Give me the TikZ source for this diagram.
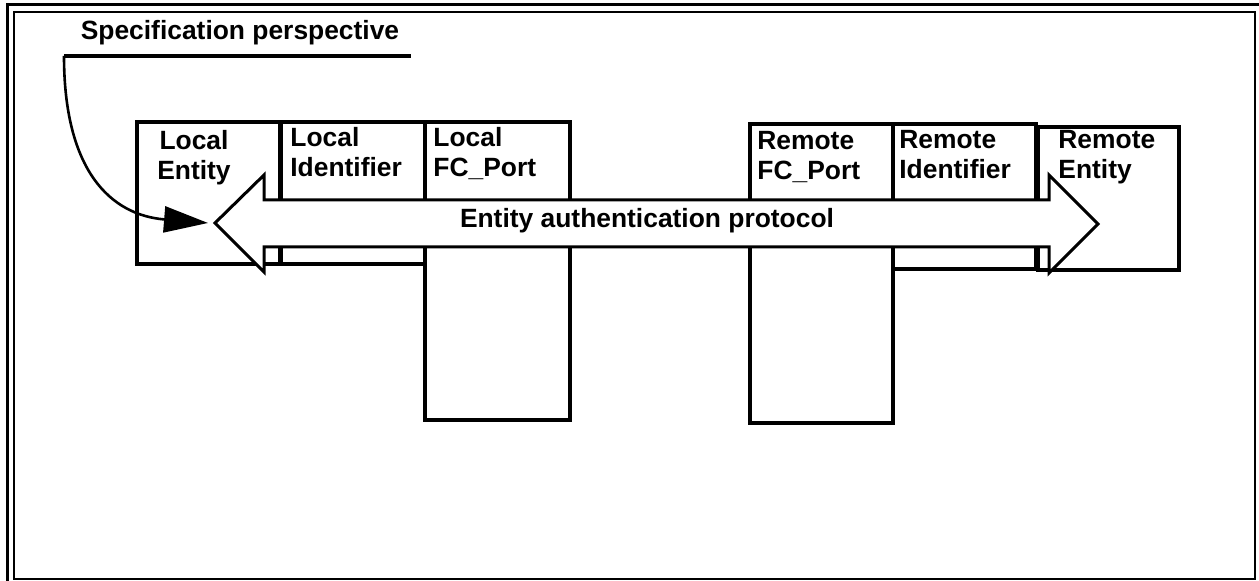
\documentclass[tikz,border=0pt]{standalone}
\usepackage{fontspec}
\setmainfont{Liberation Sans}
\usetikzlibrary{arrows.meta}

\begin{document}
\begin{tikzpicture}[x = .5pt, y = -.5pt,
    every node/.style = {font = \fontsize{13.2}{15}\selectfont\bfseries, inner sep = 0pt},
    box/.style = {line width = 1.9pt},
    lbl/.style = {anchor = base west, align = left}]
    \useasboundingbox (0,0) rectangle (1259,581);
    \draw[line width = 1.5pt] (7,581) -- (7,5) -- (1259,5);
    \draw[line width = 1.1pt] (14,12) rectangle (1255,579);
    % boxes
    \draw[box] (137,122) rectangle (280,264);
    \draw[box] (281,122) rectangle (425,264);
    \draw[box] (425,122) rectangle (570,420);
    \draw[box] (750,124) rectangle (893,423);
    \draw[box] (893,124) rectangle (1036,269);
    \draw[box] (1038,127) rectangle (1179,270);
    \node[lbl, anchor = base, align = center] (lent) at (194,180) {Local\\Entity};
    \node[lbl] (lid) at (290,177) {Local\\Identifier};
    \node[lbl] (lport) at (433,177) {Local\\FC\_Port};
    \node[lbl] (rport) at (757,180) {Remote\\FC\_Port};
    \node[lbl] (rid) at (899,179) {Remote\\Identifier};
    \node[lbl] (rent) at (1058,179) {Remote\\Entity};
    % double block arrow
    \coordinate (tipL) at (215,223);
    \coordinate (tipR) at (1098,224);
    \draw[line width = 1.5pt, fill = white, line join = miter] (tipL) -- (264,175) -- (264,200) -- (1049,200) -- (1049,175) -- (tipR)
        -- (1049,273) -- (1049,247) -- (264,247) -- (264,272) -- cycle;
    \node[anchor = base] (proto) at (647,228) {Entity authentication protocol};
    % perspective label
    \node[anchor = base] (spec) at (240,40) {Specification perspective};
    \coordinate (ulA) at (64,56);
    \coordinate (ulB) at (411,56);
    \draw[line width = 1.75pt] (ulA) -- (ulB);
    \draw[line width = 1.3pt, -{Triangle[length = 22pt, width = 13pt]}] (ulA) .. controls (64,170) and (110,215) .. (208,223);
\end{tikzpicture}
\end{document}
